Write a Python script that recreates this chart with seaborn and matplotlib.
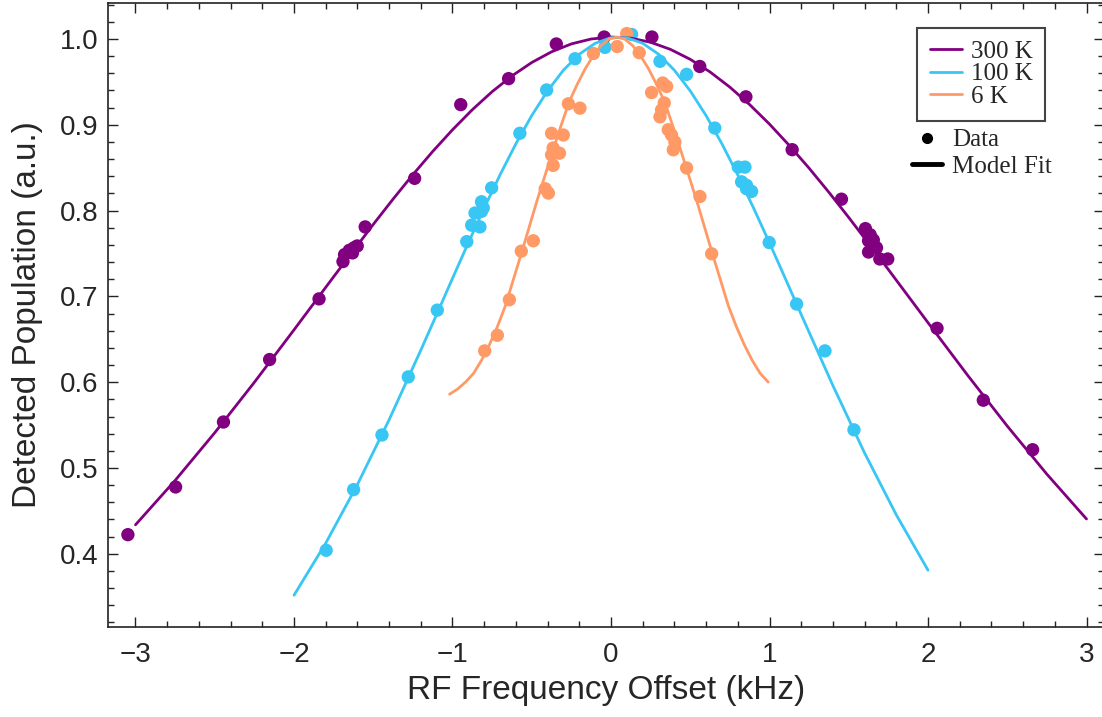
import numpy as np
import pandas as pd
import matplotlib
matplotlib.use("Agg")
import matplotlib.pyplot as plt
from matplotlib.lines import Line2D
from matplotlib.ticker import MultipleLocator, FormatStrFormatter
import seaborn as sns

# ---------------- data ----------------
series_names = ["300 K", "100 K", "6 K"]
colors = ["#800080", "#38C6F4", "#FF9A66"]

# measured points
x300 = [-3.048, -2.747, -2.445, -2.154, -1.842, -1.691, -1.681, -1.651, -1.621, -1.601,
        -1.631, -1.551, -1.239, -0.948, -0.646, -0.345, -0.043, 0.258, 0.560, 0.851,
        1.143, 1.454, 1.605, 1.635, 1.655, 1.625, 1.675, 1.625, 1.696, 1.746,
        2.057, 2.349, 2.660]
y300 = [0.4223, 0.4779, 0.5536, 0.6264, 0.6971, 0.7406, 0.7487, 0.7537, 0.7567, 0.7588,
        0.7507, 0.7810, 0.8376, 0.9235, 0.9538, 0.9942, 1.0023, 1.0023, 0.9680, 0.9326,
        0.8710, 0.8133, 0.7790, 0.7719, 0.7658, 0.7648, 0.7567, 0.7517, 0.7436, 0.7436,
        0.6628, 0.5790, 0.5213]

x100 = [-1.797, -1.624, -1.445, -1.279, -1.096, -0.910, -0.879, -0.858, -0.827, -0.817,
        -0.817, -0.806, -0.753, -0.575, -0.406, -0.227, -0.038, 0.130, 0.309, 0.477,
        0.655, 0.803, 0.845, 0.824, 0.855, 0.887, 0.855, 0.998, 1.171, 1.350, 1.533]
y100 = [0.4041, 0.4748, 0.5385, 0.6062, 0.6840, 0.7638, 0.7830, 0.7972, 0.7810, 0.7992,
        0.8103, 0.8032, 0.8265, 0.8901, 0.9406, 0.9770, 0.9902, 1.0053, 0.9740, 0.9588,
        0.8962, 0.8507, 0.8507, 0.8335, 0.8295, 0.8224, 0.8255, 0.7628, 0.6911, 0.6365,
        0.5445]

x6 = [-0.797, -0.717, -0.641, -0.566, -0.490, -0.415, -0.395, -0.365, -0.375, -0.365,
      -0.325, -0.375, -0.301, -0.269, -0.196, -0.111, 0.039, 0.099, 0.178, 0.256,
      0.326, 0.351, 0.336, 0.319, 0.309, 0.361, 0.382, 0.403, 0.393, 0.477, 0.561, 0.635]
y6 = [0.6365, 0.6547, 0.6961, 0.7527, 0.7648, 0.8255, 0.8204, 0.8527, 0.8901, 0.8730,
      0.8669, 0.8649, 0.8881, 0.9245, 0.9194, 0.9831, 0.9912, 1.0063, 0.9841, 0.9376,
      0.9487, 0.9447, 0.9255, 0.9174, 0.9093, 0.8942, 0.8881, 0.8800, 0.8709, 0.8497,
      0.8164, 0.7497]

# model-fit curves (sampled along the drawn lines)
fx300 = [-3.0, -2.75, -2.5, -2.25, -2.0, -1.75, -1.5, -1.375, -1.25, -1.125, -1.0,
         -0.875, -0.75, -0.625, -0.5, -0.375, -0.25, -0.125, 0.0, 0.125, 0.25, 0.375,
         0.5, 0.625, 0.75, 0.875, 1.0, 1.125, 1.25, 1.375, 1.5, 1.75, 2.0, 2.25, 2.5,
         2.75, 3.0]
fy300 = [0.4338, 0.4855, 0.5411, 0.5999, 0.6610, 0.7229, 0.7839, 0.8134, 0.8419, 0.8689,
         0.8942, 0.9176, 0.9386, 0.9570, 0.9726, 0.9851, 0.9943, 1.0000, 1.0023, 1.0010,
         0.9962, 0.9879, 0.9763, 0.9616, 0.9439, 0.9235, 0.9008, 0.8759, 0.8494, 0.8213,
         0.7920, 0.7313, 0.6694, 0.6081, 0.5489, 0.4928, 0.4406]

fx100 = [-2.0, -1.8, -1.6, -1.4, -1.2, -1.1, -1.0, -0.9, -0.8, -0.7, -0.6, -0.5, -0.4,
         -0.3, -0.2, -0.1, 0.0, 0.1, 0.2, 0.3, 0.4, 0.5, 0.6, 0.7, 0.8, 0.9, 1.0, 1.1,
         1.2, 1.4, 1.6, 1.8, 2.0]
fy100 = [0.3517, 0.4123, 0.4807, 0.5562, 0.6373, 0.6790, 0.7210, 0.7625, 0.8030, 0.8417,
         0.8779, 0.9108, 0.9396, 0.9637, 0.9823, 0.9950, 1.0015, 1.0015, 0.9950, 0.9823,
         0.9636, 0.9395, 0.9107, 0.8778, 0.8415, 0.8028, 0.7623, 0.7208, 0.6789, 0.5961,
         0.5175, 0.4454, 0.3809]

fx6 = [-1.0183, -0.9680, -0.9178, -0.8675, -0.8173, -0.7670, -0.7168, -0.6665, -0.6163,
       -0.5660, -0.5158, -0.4655, -0.4153, -0.3650, -0.3148, -0.2645, -0.2143, -0.1640,
       -0.1138, -0.0635, -0.0133, 0.0370, 0.0873, 0.1375, 0.1878, 0.2380, 0.2883, 0.3385,
       0.3888, 0.4390, 0.4893, 0.5395, 0.5898, 0.6400, 0.6903, 0.7405, 0.7908, 0.8410,
       0.8913, 0.9415, 0.9918]
fy6 = [0.5860, 0.5920, 0.6001, 0.6102, 0.6254, 0.6436, 0.6648, 0.6890, 0.7194, 0.7497,
       0.7810, 0.8123, 0.8416, 0.8709, 0.8992, 0.9265, 0.9467, 0.9649, 0.9801, 0.9922,
       0.9998, 1.0023, 0.9998, 0.9922, 0.9801, 0.9649, 0.9467, 0.9265, 0.8992, 0.8709,
       0.8416, 0.8123, 0.7810, 0.7497, 0.7194, 0.6890, 0.6648, 0.6436, 0.6254, 0.6102,
       0.6001]

x_ticks = [-3, -2, -1, 0, 1, 2, 3]
y_ticks = [0.4, 0.5, 0.6, 0.7, 0.8, 0.9, 1.0]
x_label = "RF Frequency Offset (kHz)"
y_label = "Detected Population (a.u.)"

# ---------------- tables ----------------
points = pd.concat([
    pd.DataFrame({"x": x300, "y": y300, "T": "300 K"}),
    pd.DataFrame({"x": x100, "y": y100, "T": "100 K"}),
    pd.DataFrame({"x": x6, "y": y6, "T": "6 K"}),
], ignore_index=True)
curves = pd.concat([
    pd.DataFrame({"x": fx300, "y": fy300, "T": "300 K"}),
    pd.DataFrame({"x": fx100, "y": fy100, "T": "100 K"}),
    pd.DataFrame({"x": fx6, "y": fy6, "T": "6 K"}),
], ignore_index=True)
palette = dict(zip(series_names, colors))

# ---------------- figure ----------------
sns.set_theme(style="ticks")
plt.rcParams["font.family"] = ["Liberation Sans", "DejaVu Sans"]
plt.rcParams["axes.unicode_minus"] = True

fig = plt.figure(figsize=(11.02, 7.17), dpi=100)
ax = fig.add_axes([108 / 1102, 1 - 627 / 717, (1104 - 108) / 1102, (627 - 3) / 717])

sns.scatterplot(data=points, x="x", y="y", hue="T", hue_order=["6 K", "100 K", "300 K"],
                palette=palette, s=92, edgecolor="none", linewidth=0, legend=False,
                ax=ax, zorder=2)
sns.lineplot(data=curves, x="x", y="y", hue="T", hue_order=series_names,
             palette=palette, estimator=None, sort=False, lw=2.0, ax=ax, zorder=3)

ax.set_xlim((108 - 611) / 158.5, (1104 - 611) / 158.5)
ax.set_ylim(1 - (627 - 39) / 858, 1 + (39 - 3) / 858)
ax.set_xticks(x_ticks)
ax.set_yticks(y_ticks)
ax.xaxis.set_minor_locator(MultipleLocator(0.2))
ax.yaxis.set_minor_locator(MultipleLocator(0.02))
ax.yaxis.set_major_formatter(FormatStrFormatter("%.1f"))
ax.tick_params(which="both", direction="in", top=True, right=True, color="#222222", width=1.0)
ax.tick_params(which="major", length=7)
ax.tick_params(which="minor", length=4)
ax.tick_params(axis="x", which="major", labelsize=20, pad=11)
ax.tick_params(axis="y", which="major", labelsize=20, pad=7)
for sp in ax.spines.values():
    sp.set_visible(True)
    sp.set_color("#222222")
    sp.set_linewidth(1.2)

ax.set_xlabel(x_label, fontsize=24, labelpad=5)
ax.set_ylabel(y_label, fontsize=24, labelpad=12)

# legends
handles, labels = ax.get_legend_handles_labels()
serif = {"family": ["Liberation Serif", "DejaVu Serif"], "size": 18}
leg1 = ax.legend(handles, labels, loc="upper left",
                 bbox_to_anchor=(917 / 1102, 1 - 28 / 717), bbox_transform=fig.transFigure,
                 borderaxespad=0, prop=serif, frameon=True, fancybox=False,
                 edgecolor="#444444", framealpha=1, handlelength=1.3, handletextpad=0.35,
                 borderpad=0.5, labelspacing=0.0)
leg1.get_frame().set_linewidth(1.5)
ax.add_artist(leg1)

extra_handles = [Line2D([0], [0], marker="o", ls="none", color="black", markersize=7),
                 Line2D([0], [0], color="black", lw=3.5)]
leg2 = ax.legend(extra_handles, ["Data", "Model Fit"], loc="upper left",
                 bbox_to_anchor=(912 / 1102, 1 - 129 / 717), bbox_transform=fig.transFigure,
                 borderaxespad=0, prop=serif, frameon=False, handlelength=1.2,
                 handletextpad=0.4, labelspacing=0.15, borderpad=0)

fig.savefig("out.png", dpi=100)
